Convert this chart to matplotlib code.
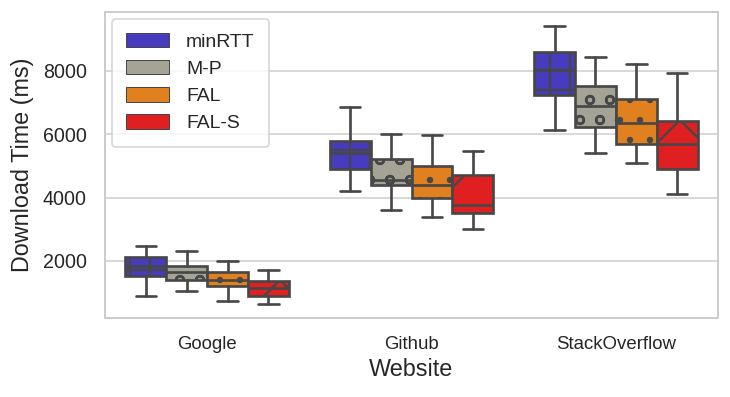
import matplotlib
matplotlib.use("Agg")
import matplotlib.pyplot as plt
import seaborn as sns
from matplotlib.patches import Patch

# 数据（从图上读出的箱线图统计量）
websites = ["Google", "Github", "StackOverflow"]
methods = ["minRTT", "M-P", "FAL", "FAL-S"]

# 每行一个方法，每列一个网站
q1 = [[1530, 4900, 7240], [1400, 4400, 6230], [1210, 3980, 5700], [900, 3510, 4910]]
med = [[1850, 5400, 8020], [1650, 4550, 6900], [1400, 4400, 6350], [1150, 3770, 5700]]
q3 = [[2140, 5800, 8580], [1840, 5230, 7510], [1660, 5000, 7110], [1380, 4720, 6430]]
lo = [[890, 4220, 6140], [1050, 3610, 5400], [740, 3400, 5100], [640, 3000, 4120]]
hi = [[2470, 6850, 9420], [2320, 6010, 8430], [2000, 5980, 8210], [1700, 5480, 7930]]

colors = ["#473cbf", "#a5a396", "#e0801e", "#e02020"]
hatches = ["++", "oo", "..", "x"]
edge = "#474747"

sns.set_style("whitegrid")
plt.rcParams["font.family"] = ["Liberation Sans", "DejaVu Sans"]
plt.rcParams["hatch.linewidth"] = 0.7

fig = plt.figure(figsize=(730 / 240, 397 / 240), dpi=240)
ax = fig.add_axes([0.1438, 0.199, 0.8398, 0.771])

width = 0.2
for m in range(len(methods)):
    stats = []
    for w in range(len(websites)):
        stats.append({"q1": q1[m][w], "med": med[m][w], "q3": q3[m][w],
                      "whislo": lo[m][w], "whishi": hi[m][w], "fliers": []})
    pos = [w + (m - 1.5) * width for w in range(len(websites))]
    bp = ax.bxp(stats, positions=pos, widths=width, patch_artist=True,
                showfliers=False, capwidths=width / 2, manage_ticks=False,
                boxprops=dict(facecolor=colors[m], edgecolor=edge, linewidth=0.8),
                whiskerprops=dict(color=edge, linewidth=0.8),
                capprops=dict(color=edge, linewidth=0.8),
                medianprops=dict(color=edge, linewidth=0.8))
    for box in bp["boxes"]:
        box.set_hatch(hatches[m])
        box.set_zorder(2)

ax.set_xlim(-0.5, 2.5)
ax.set_ylim(200, 9860)
ax.set_xticks(range(len(websites)))
ax.set_xticklabels(websites, fontsize=5.6)
ax.set_yticks([2000, 4000, 6000, 8000])
ax.tick_params(axis="y", labelsize=5.9, pad=2)
ax.tick_params(axis="x", pad=2)
ax.grid(axis="x", visible=False)
ax.grid(axis="y", color="#d2d2d2", linewidth=0.5)
for s in ax.spines.values():
    s.set_color("#cccccc")
    s.set_linewidth(0.6)
ax.set_xlabel("Website", fontsize=7.0, labelpad=1.5)
ax.set_ylabel("Download Time (ms)", fontsize=7.0, labelpad=2.5)

handles = [Patch(facecolor=c, edgecolor=edge, linewidth=0.3) for c in colors]
leg = ax.legend(handles, methods, loc="upper left", fontsize=5.8, frameon=True,
                handlelength=2.2, handleheight=0.75, labelspacing=0.48,
                borderaxespad=0.35, handletextpad=0.9, borderpad=0.75,
                edgecolor="#cccccc")
leg.get_frame().set_linewidth(0.5)

plt.savefig("out.png", dpi=240)
plt.close()
